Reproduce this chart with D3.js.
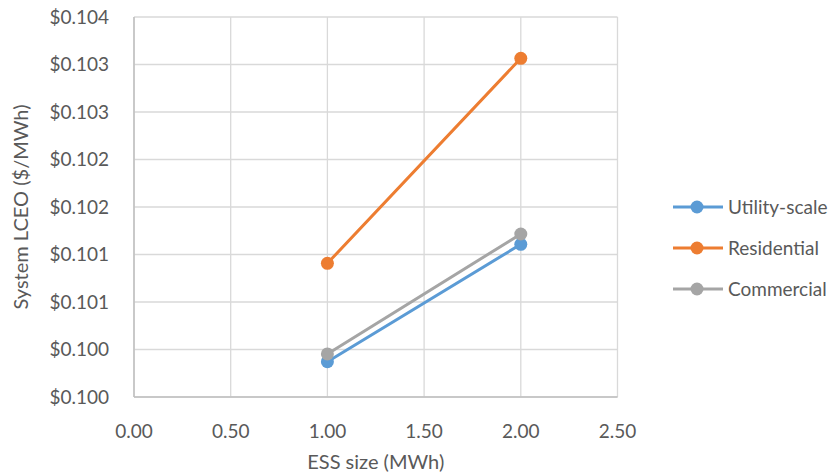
<!DOCTYPE html>
<html>
<head>
<meta charset="utf-8">
<script src="https://cdn.jsdelivr.net/npm/d3@7"></script>
<style>
  html, body { margin: 0; padding: 0; background: #fff; }
  svg { display: block; font-family: Lato, "Open Sans", sans-serif; }
</style>
</head>
<body>
<svg id="chart" width="838" height="475"></svg>
<script>
// ESS size (MWh) for each scenario point
const essSize = [1.0, 2.0];

// System LCEO ($/MWh) per deployment segment
const utilityScale = [0.100372, 0.101607];
const residential = [0.101407, 0.103565];
const commercial = [0.100453, 0.101716];

const seriesNames = ["Utility-scale", "Residential", "Commercial"];
const seriesColors = ["#5b9bd5", "#ed7d31", "#a5a5a5"];

// Axis ticks and their displayed labels
const xTicks = [0, 0.5, 1.0, 1.5, 2.0, 2.5];
const yTicks = [0.1000, 0.1005, 0.1010, 0.1015, 0.1020, 0.1025, 0.1030, 0.1035, 0.1040];
const yTickLabels = ["$0.100", "$0.100", "$0.101", "$0.101", "$0.102", "$0.102", "$0.103", "$0.103", "$0.104"];

const series = [
  { name: seriesNames[0], values: utilityScale, color: seriesColors[0] },
  { name: seriesNames[1], values: residential, color: seriesColors[1] },
  { name: seriesNames[2], values: commercial, color: seriesColors[2] }
];

const svg = d3.select("#chart");

const x = d3.scaleLinear().domain([0, 2.5]).range([134, 617.5]);
const y = d3.scaleLinear().domain([0.1000, 0.1040]).range([397, 17]);

const textColor = "#595959";
const tickSize = 19;
const titleSize = 20;

// gridlines
const grid = svg.append("g");
grid.selectAll(".hg").data(yTicks).join("line")
  .attr("x1", x(0)).attr("x2", x(2.5))
  .attr("y1", d => y(d)).attr("y2", d => y(d))
  .attr("stroke", "#d9d9d9").attr("stroke-width", 1.3);
grid.selectAll(".vg").data(xTicks).join("line")
  .attr("y1", y(0.1000)).attr("y2", y(0.1040))
  .attr("x1", d => x(d)).attr("x2", d => x(d))
  .attr("stroke", "#d9d9d9").attr("stroke-width", 1.3);

// axis lines
svg.append("line").attr("x1", x(0)).attr("x2", x(0))
  .attr("y1", y(0.1000)).attr("y2", y(0.1040))
  .attr("stroke", "#bfbfbf").attr("stroke-width", 1.5);
svg.append("line").attr("x1", x(0)).attr("x2", x(2.5))
  .attr("y1", y(0.1000)).attr("y2", y(0.1000))
  .attr("stroke", "#bfbfbf").attr("stroke-width", 1.5);

// y tick labels
svg.append("g").selectAll("text").data(yTicks).join("text")
  .attr("x", 109).attr("y", d => y(d)).attr("dy", "0.35em")
  .attr("text-anchor", "end").attr("font-size", tickSize).attr("fill", textColor)
  .text((d, i) => yTickLabels[i]);

// x tick labels
svg.append("g").selectAll("text").data(xTicks).join("text")
  .attr("x", d => x(d)).attr("y", 431).attr("dy", "0.35em")
  .attr("text-anchor", "middle").attr("font-size", tickSize).attr("fill", textColor)
  .text(d => d3.format(".2f")(d));

// axis titles
svg.append("text").attr("x", x(1.25)).attr("y", 462).attr("dy", "0.35em")
  .attr("text-anchor", "middle").attr("font-size", titleSize).attr("fill", textColor)
  .text("ESS size (MWh)");
svg.append("text")
  .attr("transform", `translate(21,${(y(0.1000) + y(0.1040)) / 2}) rotate(-90)`)
  .attr("dy", "0.35em")
  .attr("text-anchor", "middle").attr("font-size", titleSize).attr("fill", textColor)
  .text("System LCEO ($/MWh)");

// series lines and markers
const line = d3.line().x((d, i) => x(essSize[i])).y(d => y(d));
const sg = svg.append("g").selectAll("g").data(series).join("g");
sg.append("path").attr("d", d => line(d.values))
  .attr("fill", "none").attr("stroke", d => d.color).attr("stroke-width", 3)
  .attr("stroke-linecap", "round");
sg.each(function (s) {
  d3.select(this).selectAll("circle").data(s.values).join("circle")
    .attr("cx", (d, i) => x(essSize[i])).attr("cy", d => y(d)).attr("r", 6.5)
    .attr("fill", s.color);
});

// legend
const lg = svg.append("g").selectAll("g").data(series).join("g")
  .attr("transform", (d, i) => `translate(0,${[207, 248, 289][i]})`);
lg.append("line").attr("x1", 673).attr("x2", 723).attr("y1", 0).attr("y2", 0)
  .attr("stroke", d => d.color).attr("stroke-width", 3);
lg.append("circle").attr("cx", 697).attr("cy", 0).attr("r", 6.5).attr("fill", d => d.color);
lg.append("text").attr("x", 728).attr("y", 0).attr("dy", "0.35em")
  .attr("font-size", tickSize).attr("fill", textColor).text(d => d.name);
</script>
</body>
</html>
